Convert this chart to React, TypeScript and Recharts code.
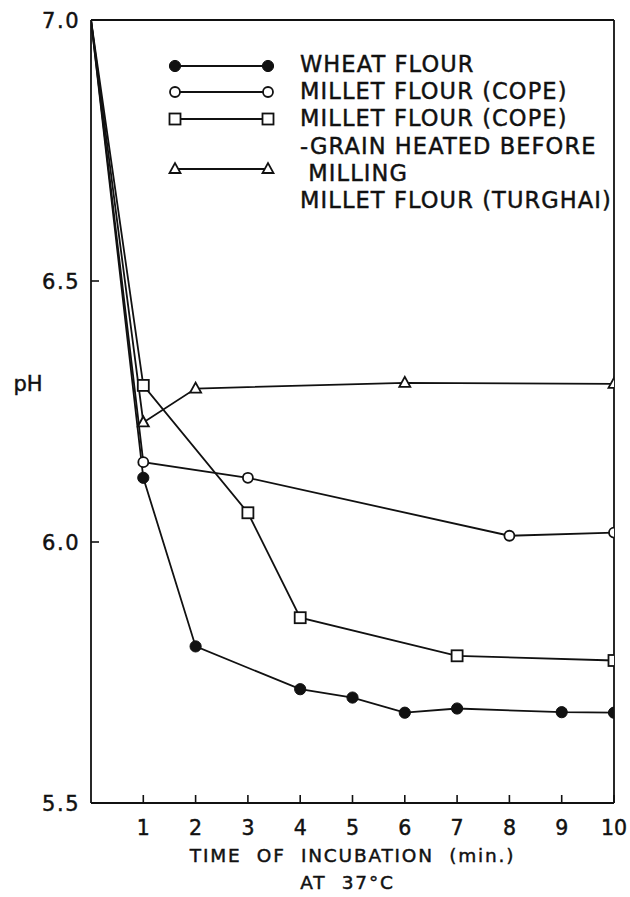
import { Line, LineChart, ReferenceLine, XAxis, YAxis } from "recharts";

// time (min.) and pH; every series starts at pH 7.0
const TIME_WHEAT = [0, 1, 2, 4, 5, 6, 7, 9, 10];
const PH_WHEAT = [7.0, 6.123, 5.8, 5.718, 5.702, 5.673, 5.681, 5.674, 5.673];

const TIME_COPE = [0, 1, 3, 8, 10];
const PH_COPE = [7.0, 6.153, 6.123, 6.012, 6.018];

const TIME_HEATED = [0, 1, 3, 4, 7, 10];
const PH_HEATED = [7.0, 6.3, 6.056, 5.855, 5.782, 5.773];

const TIME_TURGHAI = [0, 1, 2, 6, 10];
const PH_TURGHAI = [7.0, 6.229, 6.294, 6.305, 6.303];

const X_TICKS = [1, 2, 3, 4, 5, 6, 7, 8, 9, 10];
const Y_TICKS = [5.5, 6.0, 6.5, 7.0];

const LEGEND_LINES = [
  "WHEAT FLOUR",
  "MILLET FLOUR (COPE)",
  "MILLET FLOUR (COPE)",
  "-GRAIN HEATED BEFORE",
  " MILLING",
  "MILLET FLOUR (TURGHAI)",
];

type Marker = "filled" | "circle" | "square" | "triangle";

const zip = (xs: number[], ys: number[]) => xs.map((t, i) => ({ t, ph: ys[i] }));

const SERIES: { key: string; marker: Marker; data: { t: number; ph: number }[] }[] = [
  { key: "wheat", marker: "filled", data: zip(TIME_WHEAT, PH_WHEAT) },
  { key: "cope", marker: "circle", data: zip(TIME_COPE, PH_COPE) },
  { key: "heated", marker: "square", data: zip(TIME_HEATED, PH_HEATED) },
  { key: "turghai", marker: "triangle", data: zip(TIME_TURGHAI, PH_TURGHAI) },
];

const FONT = "'DejaVu Sans', sans-serif";
const INK = "#111";
// the lettering in the original is a bit heavier than DejaVu Book
const TEXT_STROKE = { stroke: INK, strokeWidth: 0.45 };

function MarkerShape({ kind, cx, cy }: { kind: Marker; cx: number; cy: number }) {
  if (kind === "filled") return <circle cx={cx} cy={cy} r={5.6} fill={INK} stroke={INK} />;
  if (kind === "circle")
    return <circle cx={cx} cy={cy} r={5} fill="#fff" stroke={INK} strokeWidth={1.8} />;
  if (kind === "square")
    return (
      <rect x={cx - 5.5} y={cy - 5.5} width={11} height={11} fill="#fff" stroke={INK} strokeWidth={1.8} />
    );
  return (
    <polygon
      points={`${cx - 5.5},${cy + 4} ${cx + 5.5},${cy + 4} ${cx},${cy - 6}`}
      fill="#fff"
      stroke={INK}
      strokeWidth={1.8}
      strokeLinejoin="miter"
    />
  );
}

const dotFor = (kind: Marker) => (props: any) => {
  const { cx, cy, index } = props;
  if (index === 0 || cx == null || cy == null) return <g key={`d-${index}`} />;
  return (
    <g key={`d-${index}`}>
      <MarkerShape kind={kind} cx={cx} cy={cy} />
    </g>
  );
};

const XTick = (props: any) => {
  const { x, y, payload } = props;
  return (
    <g>
      <line x1={x} y1={y} x2={x} y2={y - 8} stroke={INK} strokeWidth={1.6} />
      <text
        x={x}
        y={y + 25}
        textAnchor="middle"
        dominantBaseline="central"
        fontFamily={FONT}
        fontSize={20.5}
        fill={INK}
        {...TEXT_STROKE}
      >
        {payload.value}
      </text>
    </g>
  );
};

const YTick = (props: any) => {
  const { x, y, payload } = props;
  return (
    <g>
      <line x1={x} y1={y} x2={x + 8} y2={y} stroke={INK} strokeWidth={1.6} />
      <text
        x={x - 11}
        y={y + 1}
        textAnchor="end"
        dominantBaseline="central"
        fontFamily={FONT}
        fontSize={21}
        letterSpacing={1.5}
        fill={INK}
        {...TEXT_STROKE}
      >
        {Number(payload.value).toFixed(1)}
      </text>
    </g>
  );
};

const LEGEND_SYMBOL_ROWS: { marker: Marker; y: number }[] = [
  { marker: "filled", y: 66 },
  { marker: "circle", y: 92 },
  { marker: "square", y: 119 },
  { marker: "triangle", y: 169 },
];

function LegendOverlay() {
  return (
    <svg
      width={630}
      height={897}
      style={{ position: "absolute", left: 0, top: 0, pointerEvents: "none" }}
    >
      {LEGEND_SYMBOL_ROWS.map((r) => (
        <g key={r.marker}>
          <line x1={175} y1={r.y} x2={268} y2={r.y} stroke={INK} strokeWidth={1.8} />
          <MarkerShape kind={r.marker} cx={175} cy={r.y} />
          <MarkerShape kind={r.marker} cx={268} cy={r.y} />
        </g>
      ))}
      {LEGEND_LINES.map((s, i) => (
        <text
          key={i}
          x={300}
          y={64 + i * 27.2}
          dominantBaseline="central"
          fontFamily={FONT}
          fontSize={22.5}
          letterSpacing={1.1}
          fill={INK}
          {...TEXT_STROKE}
          style={{ whiteSpace: "pre" }}
        >
          {s}
        </text>
      ))}
    </svg>
  );
}

export default function App() {
  return (
    <div style={{ position: "relative", width: 630, height: 897, background: "#fff" }}>
      <style>{`body{margin:0}`}</style>
      <LineChart
        width={630}
        height={897}
        margin={{ top: 20, right: 16, bottom: 0, left: 0 }}
      >
        <XAxis
          dataKey="t"
          type="number"
          domain={[0, 10]}
          ticks={X_TICKS}
          allowDataOverflow
          height={94}
          tickSize={0}
          tickMargin={0}
          tick={<XTick />}
          axisLine={{ stroke: INK, strokeWidth: 1.8 }}
          label={({ viewBox }: any) => (
            <g fontFamily={FONT} fill={INK} fontSize={18.5} letterSpacing={1.8} {...TEXT_STROKE}>
              <text
                x={viewBox.x + viewBox.width / 2}
                y={855}
                textAnchor="middle"
                dominantBaseline="central"
                style={{ whiteSpace: "pre" }}
              >
                {"TIME  OF  INCUBATION  (min.)"}
              </text>
              <text
                x={viewBox.x + viewBox.width / 2 - 5}
                y={882}
                textAnchor="middle"
                dominantBaseline="central"
                style={{ whiteSpace: "pre" }}
              >
                {"AT  37°C"}
              </text>
            </g>
          )}
        />
        <YAxis
          dataKey="ph"
          type="number"
          domain={[5.5, 7.0]}
          ticks={Y_TICKS}
          allowDataOverflow
          width={91}
          tickSize={0}
          tickMargin={0}
          tick={<YTick />}
          axisLine={{ stroke: INK, strokeWidth: 1.8 }}
          label={() => (
            <text
              x={28}
              y={384}
              textAnchor="middle"
              dominantBaseline="central"
              fontFamily={FONT}
              fontSize={21}
              fill={INK}
              {...TEXT_STROKE}
            >
              pH
            </text>
          )}
        />
        <ReferenceLine y={7.0} stroke={INK} strokeWidth={1.8} />
        <ReferenceLine x={10} stroke={INK} strokeWidth={1.8} />
        {SERIES.map((s) => (
          <Line
            key={s.key}
            data={s.data}
            dataKey="ph"
            type="linear"
            stroke={INK}
            strokeWidth={1.8}
            dot={dotFor(s.marker)}
            activeDot={false}
            isAnimationActive={false}
          />
        ))}
      </LineChart>
      <LegendOverlay />
    </div>
  );
}
